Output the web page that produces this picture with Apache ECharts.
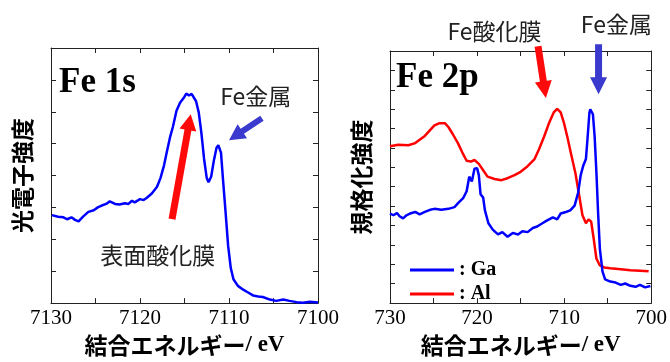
<!DOCTYPE html>
<html><head><meta charset="utf-8">
<script src="https://cdn.jsdelivr.net/npm/echarts@6/dist/echarts.min.js"></script>
<style>html,body{margin:0;padding:0;background:#fff}#c{width:670px;height:362px}</style>
</head><body><div id="c"></div>
<script>
// ---- Fe 1s (left panel) ----
const fe1sEnergy = [7129.9,7129.2,7128.6,7128.2,7127.7,7127.3,7126.9,7126.4,7125.8,7125.2,7124.7,7124.3,7123.8,7123.4,7122.8,7122.3,7121.7,7121.3,7120.9,7120.6,7120.0,7119.6,7119.3,7118.7,7118.1,7117.7,7117.3,7117.0,7116.6,7116.3,7115.9,7115.5,7115.1,7114.8,7114.5,7114.2,7114.0,7113.7,7113.4,7113.1,7112.8,7112.5,7112.3,7112.0,7111.7,7111.4,7111.2,7110.9,7110.7,7110.4,7110.1,7109.8,7109.5,7109.0,7108.4,7107.9,7107.3,7106.7,7106.2,7105.4,7104.7,7103.9,7103.2,7102.4,7101.7,7100.9,7100.0];
const fe1sIntensity = [2.76,2.71,2.69,2.63,2.69,2.61,2.56,2.71,2.86,2.91,3.01,3.06,3.11,3.19,3.11,3.09,3.13,3.11,3.21,3.16,3.26,3.23,3.29,3.43,3.64,3.92,4.32,4.72,5.23,5.53,6.03,6.28,6.43,6.57,6.51,6.56,6.52,6.33,5.98,5.33,4.52,3.92,3.79,3.97,4.47,4.87,4.95,4.72,3.97,2.91,1.80,1.10,0.75,0.54,0.42,0.34,0.24,0.21,0.19,0.11,0.07,0.11,0.07,0.03,0.01,0.04,0.02];

// ---- Fe 2p (right panel) ----
const alEnergy = [730.0,729.05,727.9,727.1,726.6,726.0,725.4,724.9,724.3,723.7,723.3,722.8,722.2,721.6,721.2,720.7,720.3,719.8,719.3,718.8,718.0,717.2,716.5,715.7,715.0,714.2,713.4,712.9,712.3,711.7,711.2,710.8,710.4,710.0,709.6,709.2,708.7,708.3,707.9,707.5,707.2,706.9,706.6,706.3,705.9,705.4,704.7,703.5,702.4,701.3,700.3];
const alIntensity = [8.09,8.17,8.14,8.25,8.42,8.62,8.92,9.16,9.28,9.28,9.08,8.72,8.25,7.68,7.34,7.30,7.38,7.18,6.85,6.52,6.40,6.34,6.44,6.60,6.77,7.06,7.43,7.92,8.59,9.33,9.83,10.02,9.83,9.25,8.50,7.68,6.68,5.61,4.53,4.12,4.32,4.20,3.29,2.30,1.94,1.84,1.80,1.75,1.70,1.67,1.64];
const gaEnergy = [730.0,729.6,729.2,728.9,728.5,728.1,727.7,727.1,726.6,726.0,725.4,724.9,724.1,723.3,722.6,722.1,721.6,721.2,720.9,720.6,720.3,720.0,719.8,719.6,719.3,719.1,718.7,718.2,717.6,717.1,716.5,715.9,715.3,714.8,714.2,713.6,713.1,712.5,711.9,711.3,710.8,710.4,709.8,709.3,708.8,708.4,708.1,707.8,707.5,707.3,707.1,707.0,706.7,706.5,706.3,706.1,705.9,705.6,705.3,704.7,704.1,703.5,703.0,702.4,701.8,701.3,700.7,700.1];
const gaIntensity = [4.62,4.53,4.65,4.48,4.37,4.53,4.62,4.70,4.58,4.70,4.81,4.86,4.81,4.86,4.95,5.19,5.41,5.77,6.52,6.27,6.93,6.96,6.60,5.61,5.44,4.78,4.12,3.79,3.54,3.66,3.42,3.62,3.54,3.71,3.66,3.87,3.95,4.12,4.28,4.42,4.32,4.62,4.70,4.78,5.03,5.69,6.60,7.10,7.43,8.59,9.83,9.99,9.74,8.59,6.77,4.62,2.80,1.64,1.22,1.11,1.06,0.94,1.01,0.89,0.84,0.94,0.81,0.88];

// tick labels
const fe1sTicks = [7130,7120,7110,7100];
const fe2pTicks = [730,720,710,700];
const legendNames = ['Ga','Al'];

// annotations [text, x, y] in data coordinates
const fe1sNotes = [['Fe金属',7107.0,6.50],['表面酸化膜',7118.0,1.51]];
const fe2pNotes = [['Fe酸化膜',718.0,14.04],['Fe金属',704.0,14.39]];
// arrows [tailX, tailY, tipX, tipY]
const fe1sArrows = [[7116.4,2.63,7114.3,5.92,'red'],[7106.3,5.80,7110.0,5.11,'blue']];
const fe2pArrows = [[713.0,13.25,712.1,10.57,'red'],[706.05,13.35,706.05,10.77,'blue']];

const zip = (a,b)=>a.map((v,i)=>[v,b[i]]);
const FRAME = '#222';
const CJK = '"Noto Sans CJK JP", sans-serif';
const SERIF = '"Liberation Serif", "Times New Roman", serif';

function xAxes(grid, min, max, ticks, top){
  return {
    gridIndex: grid, type:'value', min:min, max:max, interval:5, inverse:true,
    position: top ? 'top' : 'bottom',
    axisLine:{show:true, onZero:false, lineStyle:{color:FRAME, width:1}},
    axisTick:{show:true, inside:true, length:5, lineStyle:{color:FRAME}},
    splitLine:{show:false},
    axisLabel:{show:!top, margin:5, fontFamily:SERIF, fontSize:21, color:'#000',
      formatter:v=> ticks.includes(v) ? String(v) : ''},
    name: top ? '' : '{a|結合エネルギー}{b|/ eV}',
    nameLocation:'middle', nameGap:26,
    nameTextStyle:{rich:{a:{fontFamily:CJK, fontWeight:'bold', fontSize:23, color:'#000'},
                         b:{fontFamily:SERIF, fontWeight:'bold', fontSize:23, color:'#000'}}}
  };
}
function yAxes(grid, max, right, name){
  return {
    gridIndex: grid, type:'value', min:0, max:max, interval:1,
    position: right ? 'right' : 'left',
    axisLine:{show:true, onZero:false, lineStyle:{color:FRAME, width:1}},
    axisTick:{show:true, inside:true, length:5, lineStyle:{color:FRAME}},
    splitLine:{show:false},
    axisLabel:{show:false},
    name: right ? '' : name, nameLocation:'middle', nameRotate:90, nameGap:17,
    nameTextStyle:{fontFamily:CJK, fontWeight:'bold', fontSize:23, color:'#000'}
  };
}

const chart = echarts.init(document.getElementById('c'), null, {renderer:'canvas'});
chart.setOption({
  animation:false,
  backgroundColor:'#fff',
  grid:[{left:51, top:48, width:267, height:265},{left:390, top:51, width:263, height:262}],
  xAxis:[xAxes(0,7100,7130,fe1sTicks,false), xAxes(0,7100,7130,fe1sTicks,true),
         xAxes(1,700,730,fe2pTicks,false), xAxes(1,700,730,fe2pTicks,true)],
  yAxis:[yAxes(0,8,false,'光電子強度'), yAxes(0,8,true,''),
         yAxes(1,13,false,'規格化強度'), yAxes(1,13,true,'')],
  legend:{
    data:legendNames, orient:'vertical', left:405, top:255, itemGap:4,
    icon:'rect', itemWidth:44, itemHeight:3,
    formatter:n=>': '+n,
    textStyle:{fontFamily:SERIF, fontWeight:'bold', fontSize:20, lineHeight:20, color:'#000'}
  },
  series:[
    {name:'Fe 1s', type:'line', xAxisIndex:0, yAxisIndex:0, data:zip(fe1sEnergy,fe1sIntensity),
     showSymbol:false, symbol:'none', color:'#0000ff', lineStyle:{color:'#0000ff', width:2.5}},
    {name:'Al', type:'line', xAxisIndex:2, yAxisIndex:2, data:zip(alEnergy,alIntensity),
     showSymbol:false, symbol:'none', color:'#ff0000', lineStyle:{color:'#ff0000', width:2.5}},
    {name:'Ga', type:'line', xAxisIndex:2, yAxisIndex:2, data:zip(gaEnergy,gaIntensity),
     showSymbol:false, symbol:'none', color:'#0000ff', lineStyle:{color:'#0000ff', width:2.5}}
  ]
});

function arrowPoly(seriesIndex, a, shaftW, headW, headL){
  const p0 = chart.convertToPixel({seriesIndex}, [a[0],a[1]]);
  const p1 = chart.convertToPixel({seriesIndex}, [a[2],a[3]]);
  const dx = p1[0]-p0[0], dy = p1[1]-p0[1];
  const L = Math.hypot(dx,dy), ux = dx/L, uy = dy/L, nx = -uy, ny = ux;
  const bx = p1[0]-ux*headL, by = p1[1]-uy*headL;
  const pts = [
    [p0[0]+nx*shaftW/2, p0[1]+ny*shaftW/2],
    [bx+nx*shaftW/2, by+ny*shaftW/2],
    [bx+nx*headW/2, by+ny*headW/2],
    [p1[0], p1[1]],
    [bx-nx*headW/2, by-ny*headW/2],
    [bx-nx*shaftW/2, by-ny*shaftW/2],
    [p0[0]-nx*shaftW/2, p0[1]-ny*shaftW/2]
  ];
  return {type:'polygon', shape:{points:pts}, style:{fill: a[4]==='red' ? '#ff0a0a' : '#3a3acf'}, z:10};
}
function note(seriesIndex, n){
  const p = chart.convertToPixel({seriesIndex}, [n[1],n[2]]);
  return {type:'text', x:p[0], y:p[1], z:10,
    style:{text:n[0], fontFamily:CJK, fontSize:23, fill:'#222', align:'center', verticalAlign:'middle'}};
}
function label(seriesIndex, txt, x, y){
  const p = chart.convertToPixel({seriesIndex}, [x,y]);
  return {type:'text', x:p[0], y:p[1], z:10,
    style:{text:txt, fontFamily:SERIF, fontWeight:'bold', fontSize:35, fill:'#000', align:'left', verticalAlign:'middle'}};
}
const g = [];
fe1sArrows.forEach(a=>g.push(arrowPoly(0,a, a[4]==='red'?7:6, 17, 16)));
fe2pArrows.forEach(a=>g.push(arrowPoly(1,a,7,17,17)));
fe1sNotes.forEach(n=>g.push(note(0,n)));
fe2pNotes.forEach(n=>g.push(note(1,n)));
g.push(label(0,'Fe 1s',7129.1,6.89));
g.push(label(1,'Fe 2p',729.3,11.61));
chart.setOption({graphic:g});
</script></body></html>
